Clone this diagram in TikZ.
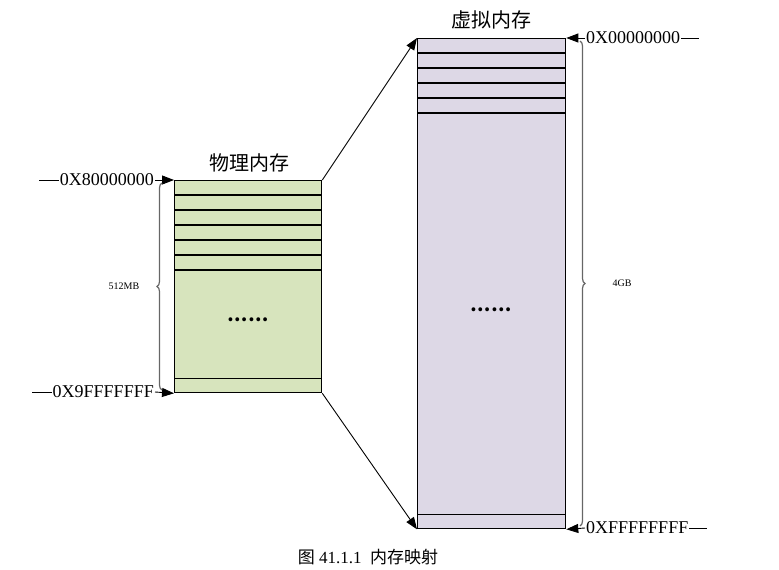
\documentclass[tikz,border=0pt]{standalone}
\usepackage{fontspec}
\setmainfont{Liberation Serif}
\newfontfamily\cjk{Noto Sans CJK SC}
\usetikzlibrary{arrows.meta,decorations.pathreplacing}

\definecolor{physgreen}{HTML}{D7E4BD}
\definecolor{virtpurple}{HTML}{DDD8E6}

\begin{document}
\begin{tikzpicture}[
  x=1pt,
  y=-1pt,
  line cap=butt
]

  \useasboundingbox (0,0) rectangle (779,570);

  % styles
  \tikzset{
    membox/.style={draw=black, line width=1.3pt, inner sep=0pt, anchor=north west},
    rowline/.style={line width=1.3pt},
    maparrow/.style={-{Triangle[length=12pt,width=9pt]}, line width=0.9pt},
    addrarrow/.style={-{Triangle[length=12pt,width=9pt]}, line width=0.9pt},
    addr/.style={font=\fontsize{18}{18}\selectfont, inner sep=1pt},
    title/.style={font=\cjk\fontsize{20}{20}\selectfont},
    span/.style={draw=black!60, line width=1.2pt, decorate,
      decoration={brace, amplitude=5pt}},
    sizelabel/.style={font=\fontsize{10}{10}\selectfont},
    dots/.style={font=\cjk\bfseries\fontsize{18}{18}\selectfont}
  }

  % physical memory
  \node[membox, fill=physgreen, minimum width=147pt, minimum height=212pt]
    (phys) at (174,180) {};
  \foreach \y in {15,30,...,90} {
    \draw[rowline] (phys.north west) ++(0,\y) -- ++(147,0);
  }
  \draw[rowline] (phys.south west) ++(0,-15) -- ++(147,0);
  \node[title] (physname) at (249,163) {物理内存};
  \node[dots] (physdots) at (248,320) {……};

  % virtual memory
  \node[membox, fill=virtpurple, minimum width=148pt, minimum height=490pt]
    (virt) at (417,38) {};
  \foreach \y in {15,30,...,75} {
    \draw[rowline] (virt.north west) ++(0,\y) -- ++(148,0);
  }
  \draw[rowline] (virt.south west) ++(0,-15) -- ++(148,0);
  \node[title] (virtname) at (491,20) {虚拟内存};
  \node[dots] (virtdots) at (491,310) {……};

  % address labels
  \node[addr, anchor=east] (physstart) at (155,180) {0X80000000};
  \node[addr, anchor=east] (physend) at (155,392) {0X9FFFFFFF};
  \node[addr, anchor=west] (virtstart) at (585,38) {0X00000000};
  \node[addr, anchor=west] (virtend) at (585,528) {0XFFFFFFFF};

  \draw[line width=0.9pt] (physstart.west) -- ++(-20,0);
  \draw[line width=0.9pt] (physend.west) -- ++(-20,0);
  \draw[line width=0.9pt] (virtstart.east) -- ++(18,0);
  \draw[line width=0.9pt] (virtend.east) -- ++(18,0);

  \draw[addrarrow] (physstart.east) -- (phys.north west);
  \draw[addrarrow] (physend.east) -- (phys.south west);
  \draw[addrarrow] (virtstart.west) -- (virt.north east);
  \draw[addrarrow] (virtend.west) -- (virt.south east);

  % sizes
  \draw[span] (162,390) -- (162,183);
  \draw[span] (580,41) -- (580,526);
  \node[sizelabel] (physsize) at (124,286) {512MB};
  \node[sizelabel] (virtsize) at (622,283) {4GB};

  % mapping
  \draw[maparrow] (phys.north east) -- (virt.north west);
  \draw[maparrow] (phys.south east) -- (virt.south west);

  % caption
  \node[font=\fontsize{17}{17}\selectfont] (caption) at (368,557)
    {{\cjk 图} 41.1.1\enspace{\cjk 内存映射}};

\end{tikzpicture}
\end{document}
